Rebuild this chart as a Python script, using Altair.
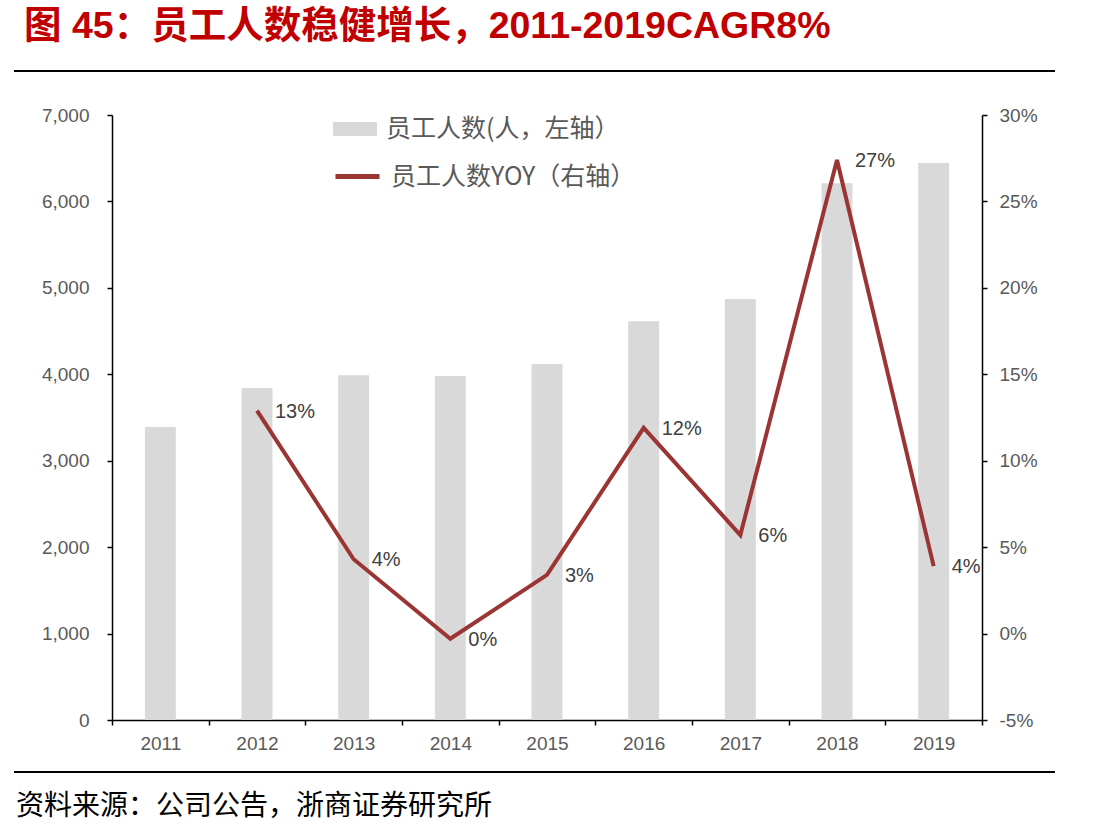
import altair as alt
import pandas as pd

# ---- data ----
years = ["2011", "2012", "2013", "2014", "2015", "2016", "2017", "2018", "2019"]
employees = [3390, 3840, 3990, 3980, 4120, 4615, 4870, 6210, 6445]
yoy = [None, 0.129, 0.043, -0.003, 0.034, 0.119, 0.057, 0.274, 0.039]

left_ticks = [0, 1000, 2000, 3000, 4000, 5000, 6000, 7000]
right_ticks = [-0.05, 0.0, 0.05, 0.10, 0.15, 0.20, 0.25, 0.30]

title_text = "图 45：员工人数稳健增长，2011-2019CAGR8%"
source_text = "资料来源：公司公告，浙商证券研究所"
bar_label = "员工人数(人，左轴）"
line_label = "员工人数YOY（右轴）"

BAR_COLOR = "#d9d9d9"
LINE_COLOR = "#9a3534"
CJK = "Noto Sans CJK SC"
LATIN = "Liberation Sans"

df = pd.DataFrame({
    "year": years, "employees": employees, "yoy": yoy,
    "bar_series": [bar_label] * len(years),
    "line_series": [line_label] * len(years),
})

x_enc = alt.X(
    "year:O",
    scale=alt.Scale(paddingInner=0, paddingOuter=0),
    axis=alt.Axis(tickBand="extent", labelAngle=0, title=None, labelPadding=9),
)

bars = alt.Chart(df).mark_bar(width=alt.RelativeBandSize(0.32)).encode(
    x=x_enc,
    y=alt.Y(
        "employees:Q",
        scale=alt.Scale(domain=[0, 7000], nice=False),
        axis=alt.Axis(values=left_ticks, format=",.0f", orient="left",
                      labelPadding=18, title=None),
    ),
    color=alt.Color(
        "bar_series:N",
        scale=alt.Scale(domain=[bar_label], range=[BAR_COLOR]),
        legend=alt.Legend(
            title=None, orient="none", legendX=221, legendY=-8, padding=0,
            symbolType="M-1,-0.32L1,-0.32L1,0.32L-1,0.32Z", symbolSize=1936,
            symbolStrokeWidth=0, labelFont=CJK, labelFontSize=25,
            labelColor="#595959", labelOffset=9, labelLimit=500,
        ),
    ),
)

yoy_scale = alt.Scale(domain=[-0.05, 0.30], nice=False, zero=False)

line = alt.Chart(df).mark_line(strokeWidth=4).encode(
    x=x_enc,
    y=alt.Y(
        "yoy:Q",
        scale=yoy_scale,
        axis=alt.Axis(orient="right", values=right_ticks, format=".0%",
                      labelExpr="replace(datum.label, '\u2212', '-')",
                      labelPadding=12, title=None),
    ),
    stroke=alt.Stroke(
        "line_series:N",
        scale=alt.Scale(domain=[line_label], range=[LINE_COLOR]),
        legend=alt.Legend(
            title=None, orient="none", legendX=221, legendY=37, padding=0,
            symbolType="stroke", symbolSize=1936, symbolStrokeWidth=5,
            labelFont=CJK, labelFontSize=25, labelColor="#595959",
            labelOffset=9, labelLimit=500,
        ),
    ),
)

labels = alt.Chart(df).mark_text(
    align="left", baseline="middle", dx=18, dy=1, fontSize=20,
    font=LATIN, color="#404040",
).encode(
    x=x_enc,
    y=alt.Y("yoy:Q", scale=yoy_scale, axis=None),
    text=alt.Text("yoy:Q", format=".0%"),
)

one = pd.DataFrame({"t": [title_text], "s": [source_text]})

top_rule = alt.Chart(one).mark_rule(color="black", strokeWidth=2).encode(
    x=alt.value(-98), x2=alt.value(943), y=alt.value(-44)
)
bottom_rule = alt.Chart(one).mark_rule(color="black", strokeWidth=2).encode(
    x=alt.value(-98), x2=alt.value(943), y=alt.value(657)
)
title_mark = alt.Chart(one).mark_text(
    align="left", baseline="middle", font="Liberation Sans, Noto Sans CJK SC",
    fontWeight="bold", fontSize=37.5, color="#c00000",
).encode(x=alt.value(-88), y=alt.value(-88), text="t:N")
source_mark = alt.Chart(one).mark_text(
    align="left", baseline="middle", font=CJK, fontSize=28, color="black",
).encode(x=alt.value(-96), y=alt.value(692), text="s:N")

chart = (
    alt.layer(bars, line, labels, top_rule, bottom_rule, title_mark, source_mark)
    .resolve_scale(y="independent")
    .properties(
        width=870, height=605,
        autosize=alt.AutoSizeParams(type="none"),
        padding={"left": 112, "top": 115, "right": 131, "bottom": 119},
        background="white",
    )
    .configure_view(stroke=None)
    .configure_axis(
        labelFont=LATIN, labelFontSize=19, labelColor="#595959",
        domainColor="black", tickColor="black", domainWidth=1.5,
        tickWidth=1.5, tickSize=5, grid=False,
    )
)

chart.save("out.html", embed_options={"renderer": "svg", "actions": False})
